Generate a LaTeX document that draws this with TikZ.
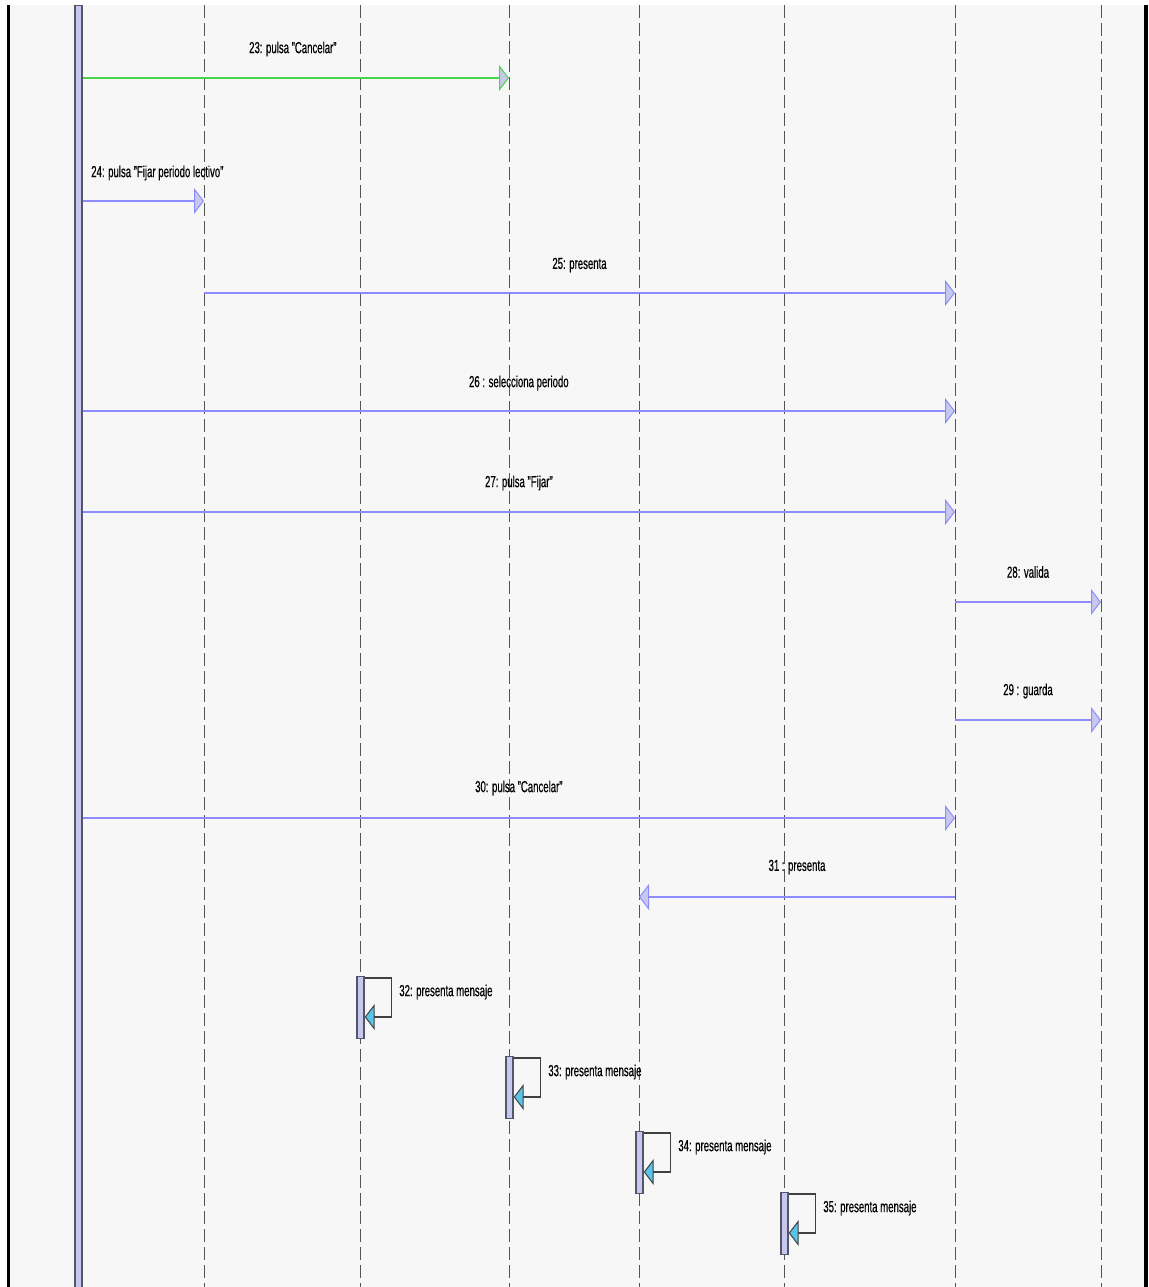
\documentclass[tikz,border=0pt]{standalone}
\usepackage{fontspec}
\setmainfont{Liberation Sans}[FakeStretch=0.6,FakeBold=0.4]
\usetikzlibrary{arrows.meta}
\definecolor{panel}{HTML}{F7F7F7}
\definecolor{msgblue}{HTML}{8C8CFF}
\definecolor{msggreen}{HTML}{4CD34C}
\definecolor{actfill}{HTML}{C8C8EE}
\definecolor{actedge}{HTML}{55556A}
\definecolor{lifegray}{HTML}{555555}
\definecolor{selfhead}{HTML}{5BC3EA}
\tikzset{
  lifeline/.style={lifegray, line width=0.9pt, dash pattern=on 13pt off 5pt},
  msg/.style={msgblue, line width=2pt, -{Triangle[length=10pt,width=26pt,fill=actfill,line width=1pt]}},
  msggo/.style={msg, msggreen},
  lbl/.style={black, font=\fontsize{16}{18}\selectfont, inner sep=0pt},
  actbar/.style={draw=actedge, fill=actfill, line width=1.4pt, inner sep=0pt, minimum width=7pt, minimum height=62pt},
  selfmsg/.style={draw=black!75, line width=1.2pt, -{Triangle[length=10pt,width=26pt,fill=selfhead,line width=1pt]}}
}

\begin{document}
\begin{tikzpicture}[x=1pt,y=-1pt]
  \useasboundingbox (0,0) rectangle (1148,1287);
  \fill[panel] (8,5) rectangle (1146,1287);
  \draw[black, line width=3pt] (8.5,5) -- (8.5,1287);
  \draw[black, line width=4pt] (1146,5) -- (1146,1287);

  % lifelines
  \foreach \n/\x in {L1/204, L2/360, L3/509, L4/639, L5/784, L6/955, L7/1101} {
    \coordinate (\n) at (\x,5);
    \draw[lifeline] (\n) -- (\x,1287);
  }
  \node[actbar, minimum height=1282pt, anchor=north] (act0) at (78.5,5) {};

  % messages
  \draw[msggo] (act0.east |- 0,78) -- (L3 |- 0,78)
    node[lbl, midway, yshift=29pt, xshift=-3pt] (m23) {23: pulsa "Cancelar"};
  \draw[msg] (act0.east |- 0,201) -- (L1 |- 0,201)
    node[lbl, midway, yshift=28pt, xshift=14pt] (m24) {24: pulsa "Fijar periodo lectivo"};
  \draw[msg] (L1 |- 0,293) -- (L6 |- 0,293)
    node[lbl, midway, yshift=28pt] (m25) {25: presenta};
  \draw[msg] (act0.east |- 0,411) -- (L6 |- 0,411)
    node[lbl, midway, yshift=28pt] (m26) {26 : selecciona periodo};
  \draw[msg] (act0.east |- 0,512) -- (L6 |- 0,512)
    node[lbl, midway, yshift=29pt] (m27) {27: pulsa "Fijar"};
  \draw[msg] (L6 |- 0,602) -- (L7 |- 0,602)
    node[lbl, midway, yshift=30pt] (m28) {28: valida};
  \draw[msg] (L6 |- 0,720) -- (L7 |- 0,720)
    node[lbl, midway, yshift=29pt] (m29) {29 : guarda};
  \draw[msg] (act0.east |- 0,818) -- (L6 |- 0,818)
    node[lbl, midway, yshift=30pt] (m30) {30: pulsa "Cancelar"};
  \draw[msg] (L6 |- 0,897) -- (L4 |- 0,897)
    node[lbl, midway, yshift=30pt] (m31) {31 : presenta};

  % self calls
  \foreach \n/\l/\y in {32/L2/976, 33/L3/1056, 34/L4/1131, 35/L5/1192} {
    \node[actbar, anchor=north] (b\n) at ([xshift=0.5pt]\l |- 0,\y) {};
    \draw[selfmsg] ([yshift=-2pt]b\n.north east) -- ++(27,0)
      node[lbl, anchor=west, xshift=7pt, yshift=-14pt] (s\n) {\n: presenta mensaje}
      -- ++(0,39) -- ++(-27,0);
  }
\end{tikzpicture}
\end{document}
